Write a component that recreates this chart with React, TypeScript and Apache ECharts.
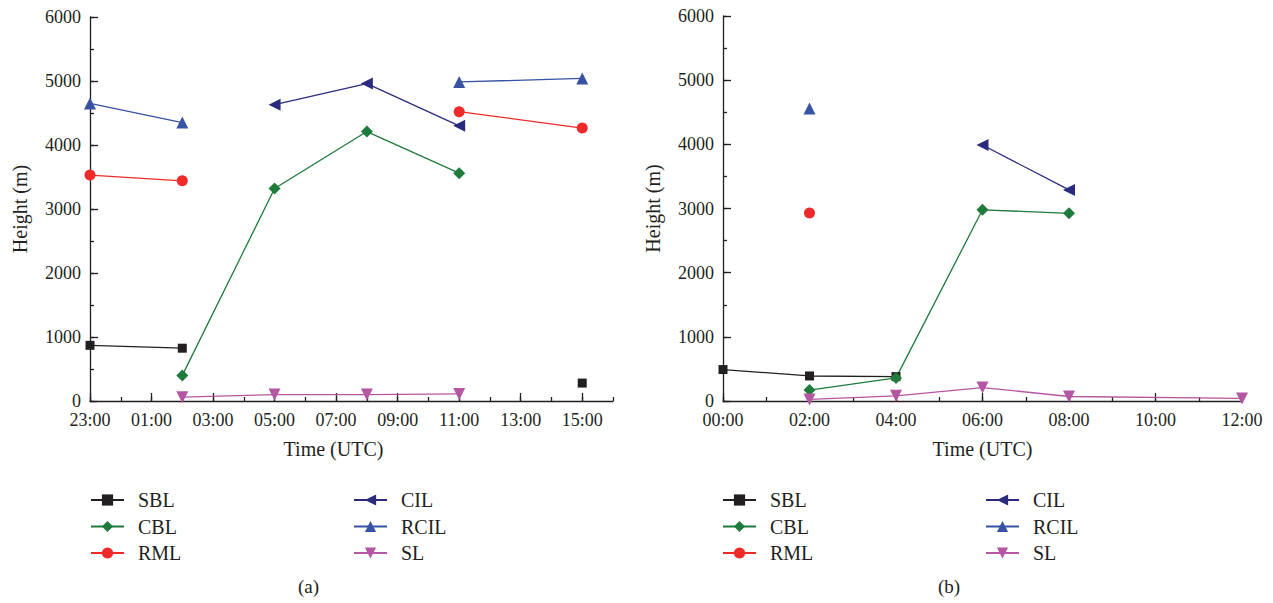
import React, { useEffect, useRef } from "react";
import * as echarts from "echarts";

// ---- data ----
const seriesNames = ["SBL", "CBL", "RML", "CIL", "RCIL", "SL"];

// Panel (a): hours relative to 00:00 (23:00 = -1)
const leftTimes = [-1, 2, 5, 8, 11, 15];
const leftSBL = [870, 825, null, null, null, 280];
const leftCBL = [null, 400, 3320, 4210, 3560, null];
const leftRML = [3530, 3440, null, null, 4520, 4265];
const leftCIL = [null, null, 4630, 4960, 4300, null];
const leftRCIL = [4650, 4350, null, null, 4985, 5040];
const leftSL = [null, 60, 100, 100, 110, null];
const leftTickValues = [-1, 1, 3, 5, 7, 9, 11, 13, 15];
const leftTickLabels = ["23:00", "01:00", "03:00", "05:00", "07:00", "09:00", "11:00", "13:00", "15:00"];

// Panel (b)
const rightTimes = [0, 2, 4, 6, 8, 12];
const rightSBL = [490, 390, 380, null, null, null];
const rightCBL = [null, 170, 360, 2980, 2925, null];
const rightRML = [null, 2930, null, null, null, null];
const rightCIL = [null, null, null, 3990, 3290, null];
const rightRCIL = [null, 4560, null, null, null, null];
const rightSL = [null, 25, 80, 210, 70, 40];
const rightTickValues = [0, 2, 4, 6, 8, 10, 12];
const rightTickLabels = ["00:00", "02:00", "04:00", "06:00", "08:00", "10:00", "12:00"];

const yTicks = [0, 1000, 2000, 3000, 4000, 5000, 6000];

// ---- styles ----
const FONT = "'Liberation Serif', 'Times New Roman', serif";
const TXT = "#231f20";
const styles: Record<string, { color: string; symbol: string; size: number; rotate: number }> = {
  SBL: { color: "#231f20", symbol: "rect", size: 9, rotate: 0 },
  CBL: { color: "#1e7b3c", symbol: "diamond", size: 12, rotate: 0 },
  RML: { color: "#ee2a2a", symbol: "circle", size: 11, rotate: 0 },
  CIL: { color: "#2b2b7e", symbol: "triangle", size: 12, rotate: 90 },
  RCIL: { color: "#3852a4", symbol: "triangle", size: 12, rotate: 0 },
  SL: { color: "#b456a2", symbol: "triangle", size: 12, rotate: 180 },
};

function mkSeries(name: string, idx: number, times: number[], vals: (number | null)[]) {
  const s = styles[name];
  return {
    type: "line",
    name,
    xAxisIndex: idx * 2,
    yAxisIndex: idx * 2,
    data: times.map((t, i) => [t, vals[i] == null ? "-" : vals[i]]),
    symbol: s.symbol,
    symbolSize: s.size,
    symbolRotate: s.rotate,
    showSymbol: true,
    showAllSymbol: true,
    connectNulls: false,
    itemStyle: { color: s.color },
    lineStyle: { color: s.color, width: 1.3 },
    z: 3,
  };
}

function mainX(gridIndex: number, min: number, max: number, ticks: number[], labels: string[], nameShift: number) {
  return {
    type: "value",
    gridIndex,
    position: "bottom",
    min,
    max,
    name: "Time (UTC)",
    nameLocation: "middle",
    nameGap: 38,
    nameTextStyle: { fontFamily: FONT, fontSize: 20, color: TXT, padding: nameShift > 0 ? [0, nameShift, 0, 0] : 0 },
    axisLine: { show: true, onZero: false, lineStyle: { color: TXT, width: 1.3 } },
    axisTick: { show: true, inside: true, length: 8, lineStyle: { color: TXT, width: 1.3 }, customValues: ticks },
    axisLabel: {
      fontFamily: FONT,
      fontSize: 18,
      lineHeight: 15,
      color: TXT,
      margin: 11,
      customValues: ticks,
      formatter: (v: number) => {
        const i = ticks.indexOf(v);
        return i >= 0 ? labels[i] : "";
      },
    },
    splitLine: { show: false },
  };
}

function minorX(gridIndex: number, min: number, max: number) {
  return {
    type: "value",
    gridIndex,
    position: "bottom",
    min,
    max,
    interval: 1,
    axisLine: { show: false, onZero: false },
    axisTick: { show: true, inside: true, length: 4, lineStyle: { color: TXT, width: 1.3 } },
    axisLabel: { show: false },
    splitLine: { show: false },
  };
}

function yAx(gridIndex: number, nameGap: number) {
  return {
    type: "value",
    gridIndex,
    position: "left",
    min: yTicks[0],
    max: yTicks[yTicks.length - 1],
    interval: 1000,
    name: "Height (m)",
    nameLocation: "middle",
    nameGap,
    nameRotate: 90,
    nameTextStyle: { fontFamily: FONT, fontSize: 20, color: TXT },
    axisLine: { show: true, onZero: false, lineStyle: { color: TXT, width: 1.3 } },
    axisTick: { show: true, inside: true, length: 8, lineStyle: { color: TXT, width: 1.3 } },
    axisLabel: { fontFamily: FONT, fontSize: 18, lineHeight: 14, color: TXT, margin: 9, formatter: (v: number) => String(v) },
    splitLine: { show: false },
  };
}

function minorY(gridIndex: number) {
  return {
    type: "value",
    gridIndex,
    position: "left",
    min: yTicks[0],
    max: yTicks[yTicks.length - 1],
    interval: 500,
    axisLine: { show: false, onZero: false },
    axisTick: { show: true, inside: true, length: 4, lineStyle: { color: TXT, width: 1.3 } },
    axisLabel: { show: false },
    splitLine: { show: false },
  };
}

function legend(left: number, data: string[]) {
  return {
    orient: "vertical",
    left,
    top: 485,
    itemWidth: 33,
    itemHeight: 14,
    itemGap: 6.5,
    data,
    selectedMode: false,
    textStyle: { fontFamily: FONT, fontSize: 20, color: TXT, padding: [0, 0, 0, 9] },
  };
}

export default function App() {
  const ref = useRef<HTMLDivElement>(null);
  useEffect(() => {
    if (!ref.current) return;
    const chart = echarts.init(ref.current, null, { renderer: "svg" });
    const leftData = [leftSBL, leftCBL, leftRML, leftCIL, leftRCIL, leftSL];
    const rightData = [rightSBL, rightCBL, rightRML, rightCIL, rightRCIL, rightSL];
    const series: any[] = [];
    seriesNames.forEach((n, i) => series.push(mkSeries(n, 0, leftTimes, leftData[i])));
    seriesNames.forEach((n, i) => series.push(mkSeries(n, 1, rightTimes, rightData[i])));
    chart.setOption({
      animation: false,
      backgroundColor: "#ffffff",
      grid: [
        { left: 90, top: 17, width: 523, height: 384, containLabel: false },
        { left: 723, top: 16, width: 519, height: 385, containLabel: false },
      ],
      xAxis: [
        mainX(0, -1, 16, leftTickValues, leftTickLabels, 36),
        minorX(0, -1, 16),
        mainX(1, 0, 12, rightTickValues, rightTickLabels, 0),
        minorX(1, 0, 12),
      ],
      yAxis: [yAx(0, 60), minorY(0), yAx(1, 60), minorY(1)],
      legend: [
        legend(85, ["SBL", "CBL", "RML"]),
        legend(348, ["CIL", "RCIL", "SL"]),
        legend(717, ["SBL", "CBL", "RML"]),
        legend(980, ["CIL", "RCIL", "SL"]),
      ],
      graphic: [
        { type: "text", left: 298, top: 577, style: { text: "(a)", fontFamily: FONT, fontSize: 19, fill: TXT } },
        { type: "text", left: 938, top: 577, style: { text: "(b)", fontFamily: FONT, fontSize: 19, fill: TXT } },
      ],
      series,
    });
    return () => chart.dispose();
  }, []);
  return (
    <div
      ref={ref}
      style={{ position: "fixed", left: 0, top: 0, width: 1273, height: 603, background: "#fff" }}
    />
  );
}
